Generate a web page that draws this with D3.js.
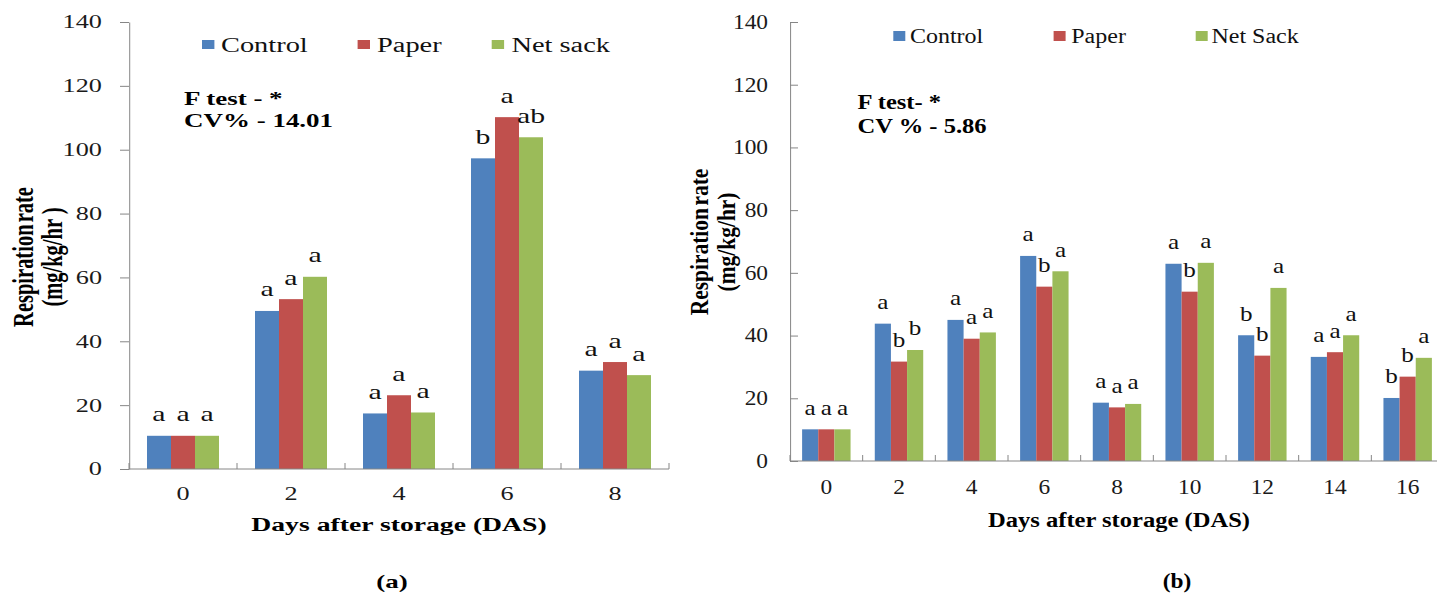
<!DOCTYPE html>
<html>
<head>
<meta charset="utf-8">
<script src="https://cdn.jsdelivr.net/npm/d3@7"></script>
<style>
  html, body { margin: 0; padding: 0; background: #fff; }
  svg { display: block; }
</style>
</head>
<body>
<div id="chart"></div>
<script>
// ---- Panel (a): respiration rate, 0–8 days after storage ----
const daysA = ["0", "2", "4", "6", "8"];
const controlA = [10.4, 49.5, 17.4, 97.3, 30.8];
const paperA   = [10.4, 53.2, 23.1, 110.2, 33.5];
const netA     = [10.4, 60.2, 17.7, 103.9, 29.4];
const lettersControlA = ["a", "a", "a", "b", "a"];
const lettersPaperA   = ["a", "a", "a", "a", "a"];
const lettersNetA     = ["a", "a", "a", "ab", "a"];
const seriesNamesA = ["Control", "Paper", "Net sack"];

// ---- Panel (b): respiration rate, 0–16 days after storage ----
const daysB = ["0", "2", "4", "6", "8", "10", "12", "14", "16"];
const controlB = [10.1, 43.8, 45.0, 65.4, 18.6, 62.9, 40.1, 33.2, 20.1];
const paperB   = [10.1, 31.7, 39.0, 55.6, 17.1, 54.0, 33.6, 34.7, 26.9];
const netB     = [10.1, 35.4, 41.0, 60.5, 18.2, 63.2, 55.2, 40.1, 32.9];
const lettersControlB = ["a", "a", "a", "a", "a", "a", "b", "a", "b"];
const lettersPaperB   = ["a", "b", "a", "b", "a", "b", "b", "a", "b"];
const lettersNetB     = ["a", "b", "a", "a", "a", "a", "a", "a", "a"];
const seriesNamesB = ["Control", "Paper", "Net Sack"];

const yTicks = [0, 20, 40, 60, 80, 100, 120, 140];
const COLORS = ["#4F81BD", "#C0504D", "#9BBB59"];
const AXIS = "#868686";
const FONT = "'Liberation Serif', 'Times New Roman', serif";

const W = 1437, H = 594;
const svg = d3.select("#chart").append("svg")
  .attr("width", W).attr("height", H)
  .attr("viewBox", `0 0 ${W} ${H}`);
svg.append("rect").attr("width", W).attr("height", H).attr("fill", "#fff");

function drawPanel(cfg) {
  const S = cfg.stretch;          // horizontal stretch of the panel
  const L = v => v / S;           // page x -> local x
  const g = svg.append("g").attr("transform", `scale(${S},1)`);

  const x = d3.scaleBand().domain(cfg.days).range([L(cfg.x0), L(cfg.x1)]).padding(0);
  const bw = x.bandwidth();
  const xs = d3.scaleBand().domain(cfg.seriesNames).range([bw / 6, bw * 5 / 6]).padding(0);
  const y = d3.scaleLinear().domain([0, 140]).range([cfg.y0, cfg.y1]);

  // bars with their significance letters
  cfg.series.forEach((s, i) => {
    const rows = cfg.days.map((d, j) => ({ day: d, v: s.values[j], lab: s.letters[j] }));
    g.append("g").selectAll("rect").data(rows).join("rect")
      .attr("x", d => x(d.day) + xs(s.name))
      .attr("y", d => y(d.v))
      .attr("width", xs.bandwidth())
      .attr("height", d => y(0) - y(d.v))
      .attr("fill", COLORS[i]);
    g.append("g").selectAll("text").data(rows).join("text")
      .attr("x", d => x(d.day) + xs(s.name) + xs.bandwidth() / 2)
      .attr("y", d => y(d.v) - cfg.labelOffset)
      .attr("text-anchor", "middle")
      .attr("font-family", FONT)
      .attr("font-size", cfg.labelSize)
      .attr("fill", "#111")
      .text(d => d.lab);
  });

  // y axis
  const yAxis = d3.axisLeft(y)
    .tickValues(yTicks)
    .tickSizeInner(L(cfg.yTick))
    .tickSizeOuter(0)
    .tickPadding(L(cfg.yPad));
  const ya = g.append("g").attr("transform", `translate(${L(cfg.x0)},0)`).call(yAxis);
  ya.select(".domain").attr("stroke", AXIS).attr("vector-effect", "non-scaling-stroke");
  ya.selectAll(".tick line").attr("stroke", AXIS).attr("vector-effect", "non-scaling-stroke");
  ya.selectAll(".tick text")
    .attr("font-family", FONT).attr("font-size", cfg.tickSize).attr("fill", "#1a1a1a");

  // x axis: baseline, boundary ticks, category labels
  const xa = g.append("g");
  xa.append("line")
    .attr("x1", L(cfg.x0)).attr("x2", L(cfg.x1))
    .attr("y1", y(0)).attr("y2", y(0))
    .attr("stroke", AXIS).attr("vector-effect", "non-scaling-stroke");
  xa.selectAll(".bt").data(d3.range(cfg.days.length + 1)).join("line")
    .attr("class", "bt")
    .attr("x1", i => x.range()[0] + i * x.step())
    .attr("x2", i => x.range()[0] + i * x.step())
    .attr("y1", y(0)).attr("y2", y(0) - 6)
    .attr("stroke", AXIS).attr("vector-effect", "non-scaling-stroke");
  xa.selectAll(".cl").data(cfg.days).join("text")
    .attr("class", "cl")
    .attr("x", d => x(d) + bw / 2)
    .attr("y", cfg.xLabelY)
    .attr("text-anchor", "middle")
    .attr("font-family", FONT).attr("font-size", cfg.tickSize).attr("fill", "#1a1a1a")
    .text(d => d);

  // axis titles
  g.append("text")
    .attr("x", L(cfg.xTitleX)).attr("y", cfg.xTitleY)
    .attr("text-anchor", "middle")
    .attr("font-family", FONT).attr("font-weight", "bold").attr("font-size", cfg.xTitleSize)
    .text("Days after storage (DAS)");
  cfg.yTitle.forEach((t, i) => {
    g.append("text")
      .attr("transform", `translate(${L(cfg.yTitleX[i])},${cfg.yTitleY}) rotate(-90)`)
      .attr("text-anchor", "middle")
      .attr("font-family", FONT).attr("font-weight", "bold").attr("font-size", cfg.yTitleSize)
      .attr("word-spacing", i === 0 ? -3 : 0)
      .text(t);
  });

  // legend
  cfg.seriesNames.forEach((n, i) => {
    g.append("rect")
      .attr("x", L(cfg.legendBoxX[i])).attr("y", cfg.legendBoxY)
      .attr("width", L(cfg.legendBoxW)).attr("height", cfg.legendBoxH)
      .attr("fill", COLORS[i]);
    g.append("text")
      .attr("x", L(cfg.legendTextX[i])).attr("y", cfg.legendTextY)
      .attr("font-family", FONT).attr("font-size", cfg.legendSize).attr("fill", "#111")
      .text(n);
  });

  // statistics note
  cfg.note.forEach((t, i) => {
    g.append("text")
      .attr("x", L(cfg.noteX)).attr("y", cfg.noteY[i])
      .attr("font-family", FONT).attr("font-weight", "bold").attr("font-size", cfg.noteSize)
      .attr("xml:space", "preserve")
      .text(t);
  });

  // panel caption
  g.append("text")
    .attr("x", L(cfg.capX)).attr("y", cfg.capY)
    .attr("text-anchor", "middle")
    .attr("font-family", FONT).attr("font-weight", "bold").attr("font-size", cfg.capSize)
    .text(cfg.caption);
}

drawPanel({
  stretch: 1.42,
  days: daysA, seriesNames: seriesNamesA,
  series: [
    { name: seriesNamesA[0], values: controlA, letters: lettersControlA },
    { name: seriesNamesA[1], values: paperA, letters: lettersPaperA },
    { name: seriesNamesA[2], values: netA, letters: lettersNetA }
  ],
  x0: 129, x1: 669, y0: 469, y1: 22,
  yTick: 9, yPad: 18, tickSize: 18.5, xLabelY: 500,
  labelSize: 21, labelOffset: 14.5,
  xTitleX: 399, xTitleY: 531, xTitleSize: 19.5,
  yTitle: ["Respiration rate", "(mg/kg/hr )"], yTitleX: [33, 62], yTitleY: 257, yTitleSize: 20.5,
  legendBoxX: [202, 357.6, 491.7], legendBoxY: 40, legendBoxW: 12.4, legendBoxH: 9,
  legendTextX: [221, 377, 511.5], legendTextY: 52, legendSize: 20,
  note: ["F test - *", "CV% - 14.01"], noteX: 184, noteY: [105, 127], noteSize: 19,
  caption: "(a)", capX: 392, capY: 588, capSize: 19
});

drawPanel({
  stretch: 1.17,
  days: daysB, seriesNames: seriesNamesB,
  series: [
    { name: seriesNamesB[0], values: controlB, letters: lettersControlB },
    { name: seriesNamesB[1], values: paperB, letters: lettersPaperB },
    { name: seriesNamesB[2], values: netB, letters: lettersNetB }
  ],
  x0: 790, x1: 1444, y0: 461, y1: 22,
  yTick: -8, yPad: 22, tickSize: 20, xLabelY: 494,
  labelSize: 21.5, labelOffset: 14.5,
  xTitleX: 1119, xTitleY: 527, xTitleSize: 21,
  yTitle: ["Respiration rate", "(mg/kg/hr)"], yTitleX: [708, 734.5], yTitleY: 242, yTitleSize: 21.5,
  legendBoxX: [893.3, 1053.6, 1195.7], legendBoxY: 31, legendBoxW: 12, legendBoxH: 10,
  legendTextX: [910, 1071.3, 1211.5], legendTextY: 43, legendSize: 20.5,
  note: ["F test- *", "CV % - 5.86"], noteX: 857.5, noteY: [109, 133], noteSize: 21,
  caption: "(b)", capX: 1177, capY: 588, capSize: 20
});
</script>
</body>
</html>
